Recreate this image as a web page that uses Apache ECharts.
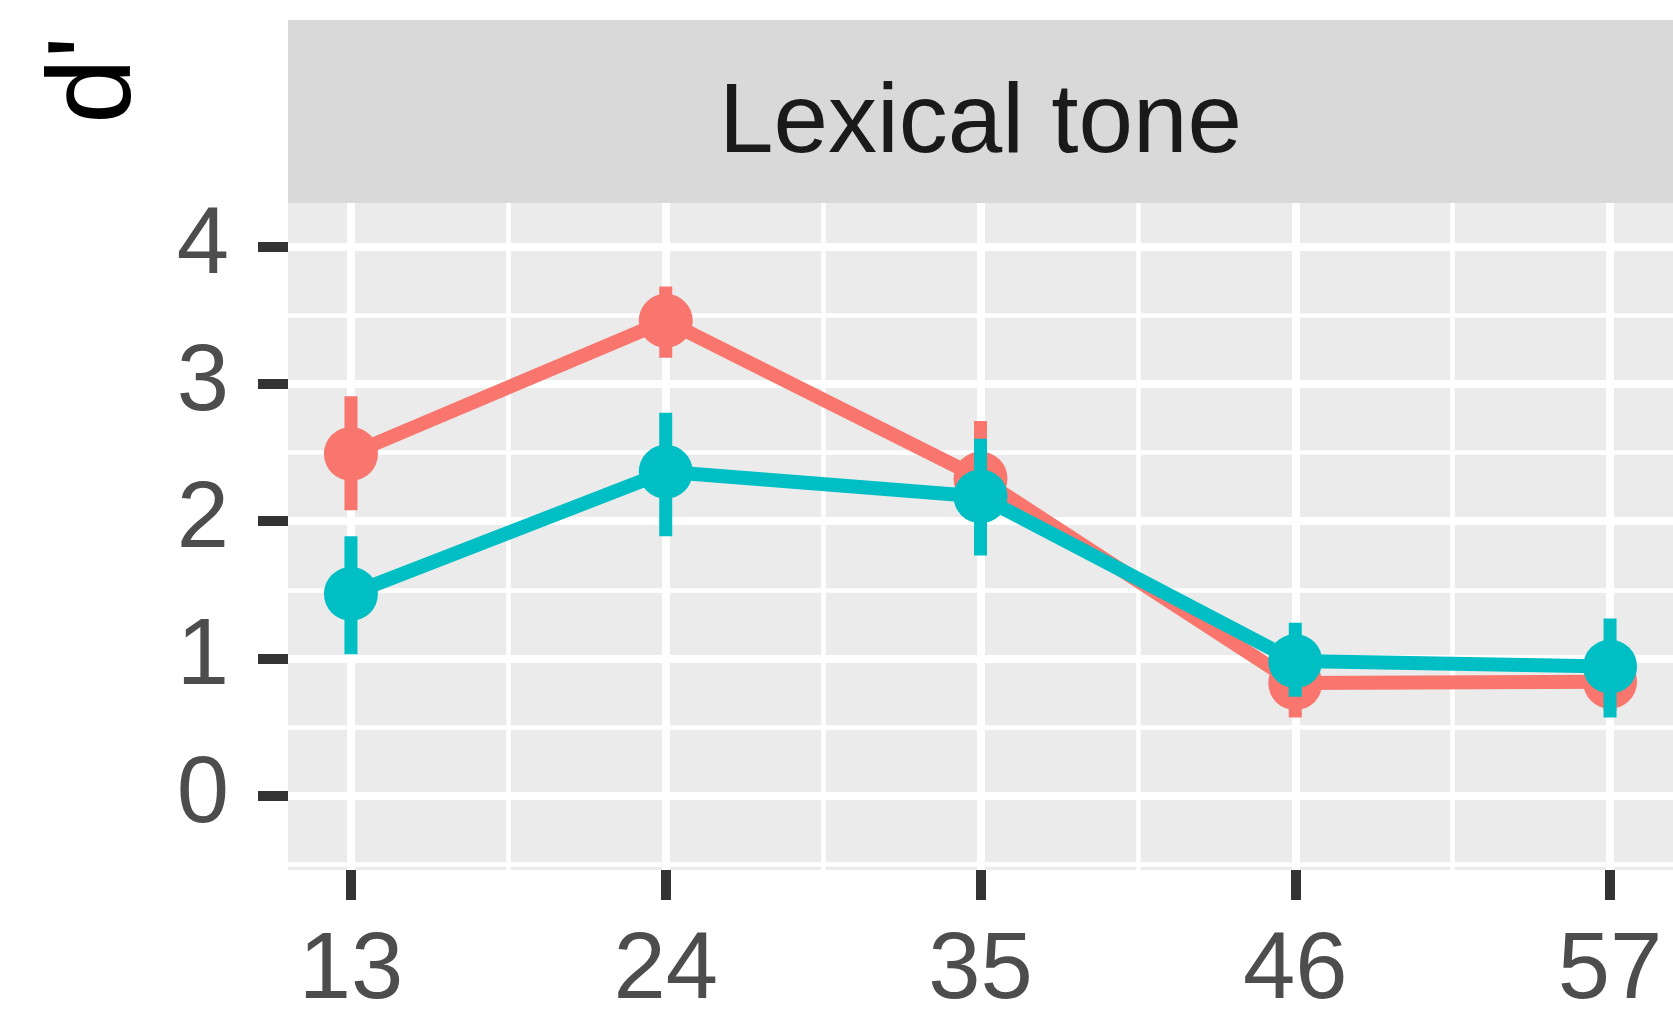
<!DOCTYPE html>
<html>
<head>
<meta charset="utf-8">
<script src="https://cdn.jsdelivr.net/npm/echarts@6/dist/echarts.min.js"></script>
<style>
  html, body { margin: 0; padding: 0; background: #ffffff; }
  #chart { width: 1673px; height: 1019px; }
</style>
</head>
<body>
<div id="chart"></div>
<script>
// Age groups on the x axis and the d' scale on the y axis
const ages = [13, 24, 35, 46, 57];
const xTickLabels = ['13', '24', '35', '46', '57'];
const xMinorBreaks = [18.5, 29.5, 40.5, 51.5];
const yTicks = [0, 1, 2, 3, 4];
const yTickLabels = ['0', '1', '2', '3', '4'];
const yMinorBreaks = [-0.5, 0.5, 1.5, 2.5, 3.5];

// Group A (salmon): mean d' with lower / upper error limits
const groupAMean = [2.49, 3.46, 2.31, 0.82, 0.83];
const groupALow  = [2.08, 3.19, 1.92, 0.57, 0.62];
const groupAHigh = [2.91, 3.71, 2.73, 1.05, 1.06];

// Group B (teal): mean d' with lower / upper error limits
const groupBMean = [1.47, 2.36, 2.18, 0.98, 0.94];
const groupBLow  = [1.03, 1.89, 1.75, 0.72, 0.57];
const groupBHigh = [1.89, 2.79, 2.60, 1.26, 1.29];

const facetTitle = 'Lexical tone';
const yTitle = "d'";

const COLOR_A = '#F8766D';
const COLOR_B = '#00BFC4';
const FONT = '"Liberation Sans", Arial, Helvetica, sans-serif';

const PANEL = { left: 288, top: 203, width: 1385, height: 681 };

function errorBars(color) {
  return function (params, api) {
    const x = api.value(0);
    const lo = api.coord([x, api.value(1)]);
    const hi = api.coord([x, api.value(2)]);
    return {
      type: 'line',
      shape: { x1: lo[0], y1: lo[1], x2: hi[0], y2: hi[1] },
      style: { stroke: color, lineWidth: 13, lineCap: 'butt' }
    };
  };
}

const chart = echarts.init(document.getElementById('chart'), null, { renderer: 'canvas' });

const option = {
  animation: false,
  backgroundColor: '#ffffff',
  grid: {
    left: PANEL.left, top: PANEL.top, width: PANEL.width, height: PANEL.height,
    show: true, backgroundColor: '#EBEBEB', borderWidth: 0, containLabel: false
  },
  xAxis: [
    {
      type: 'value', min: 10.8, max: 59.2, position: 'bottom',
      axisLine: { show: false, onZero: false },
      axisTick: { show: true, customValues: ages, length: 30, lineStyle: { color: '#333333', width: 10 } },
      axisLabel: {
        customValues: ages, margin: 55, fontSize: 94, color: '#4D4D4D', fontFamily: FONT,
        formatter: v => xTickLabels[ages.indexOf(v)]
      },
      splitLine: { show: true, lineStyle: { color: '#ffffff', width: 8 } }
    },
    {
      type: 'value', min: 10.8, max: 59.2, position: 'bottom',
      axisLine: { show: false, onZero: false },
      axisTick: { show: false, customValues: xMinorBreaks },
      axisLabel: { show: false },
      splitLine: { show: true, lineStyle: { color: '#ffffff', width: 4.5 } }
    }
  ],
  yAxis: [
    {
      type: 'value', min: -0.542, max: 4.318, position: 'left',
      axisLine: { show: false, onZero: false },
      axisTick: { show: true, customValues: yTicks, length: 30, lineStyle: { color: '#333333', width: 10 } },
      axisLabel: {
        customValues: yTicks, margin: 59, fontSize: 94, color: '#4D4D4D', fontFamily: FONT,
        formatter: v => yTickLabels[yTicks.indexOf(v)]
      },
      splitLine: { show: true, lineStyle: { color: '#ffffff', width: 8 } }
    },
    {
      type: 'value', min: -0.542, max: 4.318, position: 'left',
      axisLine: { show: false, onZero: false },
      axisTick: { show: false, customValues: yMinorBreaks },
      axisLabel: { show: false },
      splitLine: { show: true, lineStyle: { color: '#ffffff', width: 4.5 } }
    }
  ],
  series: [
    {
      name: 'Group A error', type: 'custom', xAxisIndex: 0, yAxisIndex: 0, z: 2,
      renderItem: errorBars(COLOR_A),
      encode: { x: 0, y: [1, 2] },
      data: ages.map((a, i) => [a, groupALow[i], groupAHigh[i]])
    },
    {
      name: 'Group A', type: 'line', xAxisIndex: 0, yAxisIndex: 0, z: 3,
      symbol: 'circle', symbolSize: 54, showSymbol: true,
      lineStyle: { color: COLOR_A, width: 14 },
      itemStyle: { color: COLOR_A },
      data: ages.map((a, i) => [a, groupAMean[i]])
    },
    {
      name: 'Group B error', type: 'custom', xAxisIndex: 0, yAxisIndex: 0, z: 4,
      renderItem: errorBars(COLOR_B),
      encode: { x: 0, y: [1, 2] },
      data: ages.map((a, i) => [a, groupBLow[i], groupBHigh[i]])
    },
    {
      name: 'Group B', type: 'line', xAxisIndex: 0, yAxisIndex: 0, z: 5,
      symbol: 'circle', symbolSize: 54, showSymbol: true,
      lineStyle: { color: COLOR_B, width: 14 },
      itemStyle: { color: COLOR_B },
      data: ages.map((a, i) => [a, groupBMean[i]])
    }
  ],
  graphic: [
    {
      type: 'rect', left: PANEL.left, top: 20, silent: true,
      shape: { width: PANEL.width, height: PANEL.top - 20 },
      style: { fill: '#D9D9D9' }
    },
    {
      type: 'text', x: PANEL.left + PANEL.width / 2, y: 125, silent: true,
      style: {
        text: facetTitle, fill: '#1A1A1A', font: '98px ' + FONT,
        align: 'center', verticalAlign: 'middle'
      }
    },
    {
      type: 'text', x: 97, y: 80, rotation: Math.PI / 2, silent: true,
      style: {
        text: yTitle, fill: '#000000', font: '118px ' + FONT,
        align: 'center', verticalAlign: 'middle'
      }
    }
  ]
};

chart.setOption(option);
</script>
</body>
</html>
